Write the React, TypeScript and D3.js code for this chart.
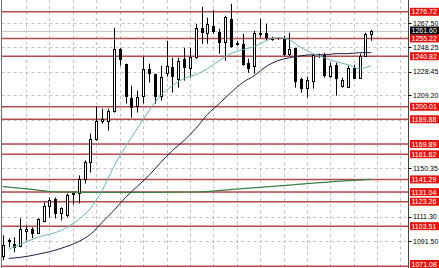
import React from "react";
import * as d3 from "d3";

const W = 439;
const H = 268;

const opens = [1079.1,1091.2,1088.8,1087.2,1099.3,1100.9,1097.7,1107.4,1119.5,1125.1,1113.8,1112.2,1129.1,1130.0,1142.0,1155.0,1174.3,1188.8,1188.8,1196.9,1246.9,1234.8,1207.4,1200.9,1209.0,1230.8,1226.7,1209.0,1227.5,1232.4,1222.7,1238.8,1231.6,1240.4,1263.8,1259.8,1265.4,1260.6,1252.5,1271.1,1250.9,1250.9,1235.6,1233.2,1259.0,1259.8,1254.9,1254.9,1255.8,1242.9,1247.7,1222.7,1215.4,1221.1,1242.0,1242.0,1225.1,1234.0,1217.0,1216.2,1231.6,1223.5,1241.2,1259.0];
const highs = [1096.1,1093.7,1094.5,1109.8,1104.1,1102.5,1109.8,1122.7,1126.7,1126.7,1118.7,1130.0,1131.6,1144.5,1156.6,1178.3,1200.1,1198.5,1198.5,1263.8,1247.7,1234.8,1217.0,1213.0,1240.4,1234.8,1226.7,1233.2,1253.3,1239.6,1239.6,1247.7,1247.7,1267.0,1280.8,1271.9,1278.3,1263.0,1273.5,1283.2,1253.3,1259.0,1238.8,1261.4,1271.1,1267.0,1256.6,1255.8,1257.4,1259.8,1247.7,1223.5,1224.3,1242.9,1242.9,1243.7,1235.6,1235.6,1223.5,1233.2,1234.0,1242.9,1259.8,1262.2];
const lows = [1075.9,1086.4,1082.4,1086.4,1092.0,1093.7,1097.7,1106.6,1110.6,1109.8,1108.2,1110.6,1121.1,1121.9,1138.0,1146.9,1172.7,1186.4,1180.8,1195.3,1233.2,1202.5,1191.2,1195.3,1202.5,1219.5,1202.5,1204.9,1224.3,1211.4,1215.4,1221.1,1223.5,1238.8,1250.9,1250.9,1259.0,1242.9,1237.2,1247.7,1249.3,1233.2,1227.5,1226.7,1255.8,1253.3,1253.3,1254.1,1241.2,1241.2,1215.4,1211.4,1207.4,1214.6,1239.6,1223.5,1223.5,1209.0,1215.4,1215.4,1222.7,1222.7,1240.4,1253.3];
const closes = [1088.0,1092.0,1086.4,1100.9,1100.9,1097.7,1109.0,1119.5,1124.3,1113.8,1117.9,1128.3,1130.0,1142.0,1155.0,1174.3,1188.8,1190.4,1196.9,1246.9,1238.8,1209.0,1200.1,1208.2,1230.8,1227.5,1209.0,1224.3,1233.2,1225.1,1237.2,1232.4,1240.4,1263.8,1260.6,1267.0,1261.4,1252.5,1272.7,1249.3,1251.2,1234.8,1231.6,1259.8,1259.8,1256.6,1255.8,1254.9,1242.9,1246.9,1221.1,1215.4,1221.9,1242.0,1242.0,1225.9,1233.2,1223.5,1221.9,1231.6,1223.5,1241.2,1259.0,1261.6];

const maIndex = [1,3,6,10,13,15,17,19,21,23,25,27,29,31,33,35,37,39,41,43,45,47,49,51,53,55,57,59,61,63];
const fastMA = [1084.8,1088.8,1094.5,1100.1,1109.0,1117.9,1132.4,1151.7,1167.9,1182.4,1196.9,1209.0,1217.0,1222.7,1225.9,1230.8,1237.2,1242.9,1246.1,1248.5,1253.3,1255.8,1254.1,1247.7,1242.9,1239.6,1236.4,1234.0,1230.8,1233.2];
const slowMA = [1077.5,1078.3,1080.8,1085.6,1091.2,1096.9,1106.6,1116.2,1126.7,1135.6,1144.5,1154.9,1164.6,1172.7,1182.4,1193.7,1202.5,1211.4,1219.5,1225.1,1232.4,1237.2,1239.6,1241.2,1242.0,1242.0,1242.9,1242.9,1243.7,1243.7];
const longMAIndex = [0,5,9,15,25,33,41,49,57,63];
const longMA = [1135.6,1133.2,1131.2,1130.8,1130.8,1131.1,1133.8,1136.7,1139.7,1141.4];

const levels = [1276.72,1255.22,1240.82,1200.01,1189.88,1169.89,1161.62,1141.29,1131.04,1123.26,1103.51,1071.08];
const gridLevels = [1267.50,1248.25,1228.45,1209.20,1189.60,1169.95,1150.35,1130.80,1111.30,1091.50];
const axisTicks = [1267.50,1248.25,1228.45,1209.20,1150.35,1111.30,1091.50];
const lastPrice = 1261.60;

const FONT = "'Liberation Sans', Arial, sans-serif";

export default function App() {
  const plotLeft = 1.5;
  const plotRight = 408.5;
  const x = d3.scaleLinear().domain([0, 63]).range([2.7, 371.25]);
  const y = d3.scaleLinear().domain([1071.08, 1276.72]).range([266.3, 11.8]);
  const fmt = d3.format(".2f");
  const line = d3
    .line<[number, number]>()
    .x((d) => x(d[0]))
    .y((d) => y(d[1]))
    .curve(d3.curveMonotoneX);

  const fastPts: [number, number][] = maIndex.map((i, k) => [i, fastMA[k]]);
  const slowPts: [number, number][] = maIndex.map((i, k) => [i, slowMA[k]]);
  const longPts: [number, number][] = longMAIndex.map((i, k) => [i, longMA[k]]);
  const vGrid = d3.range(4, 69, 4);
  const labelY = (v: number) => Math.min(y(v), H - 4);

  return (
    <svg
      width={W}
      height={H}
      style={{ position: "absolute", left: 0, top: 0, display: "block" }}
    >
      <rect x={0} y={0} width={W} height={H} fill="#fff" />
      {/* grid */}
      {vGrid.map((i) => (
        <line
          key={"vg" + i}
          x1={Math.round(x(i)) + 0.5}
          x2={Math.round(x(i)) + 0.5}
          y1={0}
          y2={H}
          stroke="#c4c4c4"
          strokeDasharray="3,3"
        />
      ))}
      {gridLevels.map((v) => (
        <line
          key={"hg" + v}
          x1={plotLeft}
          x2={plotRight}
          y1={Math.round(y(v)) + 0.5}
          y2={Math.round(y(v)) + 0.5}
          stroke="#c4c4c4"
          strokeDasharray="3,3"
        />
      ))}
      {/* bid line */}
      <line
        x1={plotLeft}
        x2={plotRight}
        y1={Math.round(y(lastPrice)) + 0.5}
        y2={Math.round(y(lastPrice)) + 0.5}
        stroke="#c8c8c8"
      />
      {/* horizontal levels */}
      {levels.map((v) => (
        <line
          key={"lv" + v}
          x1={plotLeft}
          x2={plotRight}
          y1={y(v)}
          y2={y(v)}
          stroke="#b24c50"
          strokeWidth={1.5}
        />
      ))}
      {/* candles */}
      {opens.map((o, i) => {
        const c = closes[i];
        const cx = Math.round(x(i));
        const yo = y(o);
        const yc = y(c);
        const top = Math.round(Math.min(yo, yc));
        const bot = Math.round(Math.max(yo, yc));
        const bull = c >= o;
        return (
          <g key={"c" + i}>
            <line
              x1={cx + 0.5}
              x2={cx + 0.5}
              y1={y(highs[i])}
              y2={y(lows[i])}
              stroke="#000"
              strokeWidth={1}
            />
            <rect
              x={cx - 0.5}
              y={top + 0.5}
              width={2}
              height={Math.max(0, bot - top)}
              fill={bull ? "#fff" : "#000"}
              stroke="#000"
              strokeWidth={1}
            />
          </g>
        );
      })}
      {/* moving averages */}
      <path d={line(longPts) || ""} fill="none" stroke="#3f7f47" strokeWidth={1.2} />
      <path d={line(slowPts) || ""} fill="none" stroke="#1c1c40" strokeWidth={1} />
      <path d={line(fastPts) || ""} fill="none" stroke="#74b3ac" strokeWidth={1} />
      {/* frame */}
      <line x1={plotLeft} x2={plotLeft} y1={0} y2={H} stroke="#707070" />
      <line x1={plotRight} x2={plotRight} y1={0} y2={H} stroke="#454545" />
      {/* axis ticks */}
      {axisTicks.map((v) => (
        <g key={"t" + v}>
          <line
            x1={plotRight}
            x2={plotRight + 3}
            y1={Math.round(y(v)) + 0.5}
            y2={Math.round(y(v)) + 0.5}
            stroke="#000"
          />
          <text
            x={413}
            y={y(v) + 2.5}
            fontFamily={FONT}
            fontSize={7}
            fill="#000"
          >
            {fmt(v)}
          </text>
        </g>
      ))}
      {/* level labels */}
      {levels.map((v) => (
        <g key={"ll" + v}>
          <rect x={410} y={labelY(v) - 4} width={29} height={8} fill="#e3120b" />
          <text
            x={411.5}
            y={labelY(v) + 2.6}
            fontFamily={FONT}
            fontSize={7}
            fill="#fff"
          >
            {fmt(v)}
          </text>
        </g>
      ))}
      {/* last price label */}
      <rect x={410} y={y(lastPrice) - 4} width={29} height={8} fill="#000" />
      <text
        x={411.5}
        y={y(lastPrice) + 2.6}
        fontFamily={FONT}
        fontSize={7}
        fill="#fff"
      >
        {fmt(lastPrice)}
      </text>
    </svg>
  );
}
